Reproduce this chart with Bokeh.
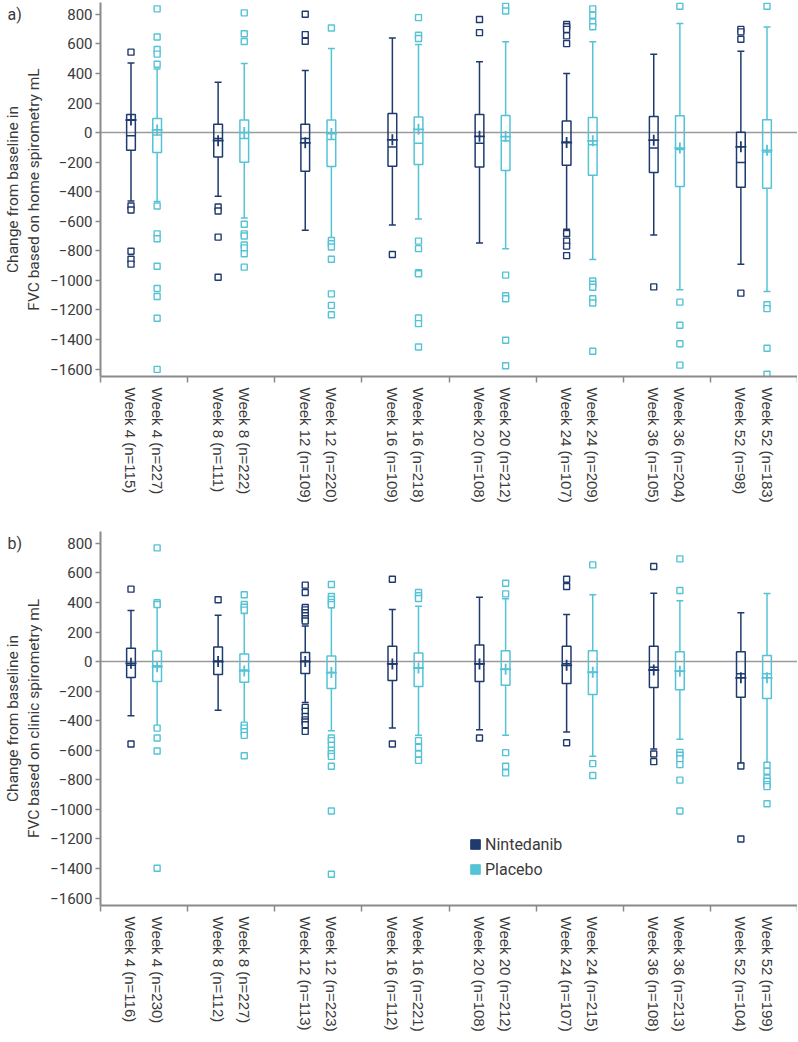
import math
from bokeh.plotting import figure
from bokeh.models import Range1d, LinearAxis, FixedTicker, Span, Title, Legend, LegendItem
from bokeh.layouts import column
from bokeh.embed import file_html
from bokeh.resources import INLINE

# ---------------- data ----------------
weeks = ["Week 4", "Week 8", "Week 12", "Week 16", "Week 20", "Week 24", "Week 36", "Week 52"]

a_n_nin = [115, 111, 109, 109, 108, 107, 105, 98]
a_n_pla = [227, 222, 220, 218, 212, 209, 204, 183]
b_n_nin = [116, 112, 113, 112, 108, 107, 108, 104]
b_n_pla = [230, 227, 223, 221, 212, 215, 213, 199]

# panel a: home spirometry
a_nin_hi = [470, 340, 420, 640, 480, 400, 530, 550]
a_nin_q3 = [122, 56, 56, 129, 122, 78, 109, 2]
a_nin_med = [-22, -40, -40, -98, -72, -65, -105, -203]
a_nin_q1 = [-120, -165, -261, -228, -232, -221, -270, -370]
a_nin_lo = [-462, -430, -660, -625, -747, -654, -692, -890]
a_nin_mean = [85, -55, -69, -49, -25, -67, -51, -96]
a_nin_out = [
    [544, -497, -524, -803, -857, -890],
    [-503, -530, -707, -979],
    [801, 663, 618],
    [-825],
    [765, 676],
    [731, 716, 698, 654, 602, -683, -734, -768, -832],
    [-1044],
    [698, 681, 631, -1086],
]

a_pla_hi = [430, 468, 569, 596, 614, 614, 738, 714]
a_pla_q3 = [96, 85, 85, 105, 116, 102, 114, 87]
a_pla_med = [-16, -40, -47, -72, -56, -82, -114, -132]
a_pla_q1 = [-134, -201, -230, -216, -257, -288, -364, -377]
a_pla_lo = [-466, -578, -716, -584, -785, -859, -1064, -1075]
a_pla_mean = [18, 0, -7, 22, -27, -56, -105, -120]
a_pla_out = [
    [837, 647, 562, 531, 462, -497, -685, -718, -904, -1055, -1109, -1256, -1602],
    [810, 669, 616, -620, -685, -700, -760, -780, -820, -910],
    [707, -730, -752, -774, -857, -1091, -1169, -1232],
    [778, 658, 636, -734, -785, -948, -955, -1254, -1292, -1450],
    [855, 823, -964, -1104, -1124, -1405, -1577],
    [837, 794, 747, 716, -1004, -1026, -1046, -1124, -1153, -1479],
    [855, -1147, -1303, -1428, -1573],
    [855, -1165, -1191, -1459, -1635],
]

# panel b: clinic spirometry
b_nin_hi = [346, 314, 240, 353, 436, 319, 463, 330]
b_nin_q3 = [90, 99, 61, 103, 112, 103, 103, 67]
b_nin_med = [-25, 4, 4, -16, -16, -15, -38, -83]
b_nin_q1 = [-108, -88, -81, -128, -135, -148, -175, -241]
b_nin_lo = [-367, -330, -277, -450, -461, -477, -591, -688]
b_nin_mean = [-12, 0, 0, -16, -16, -25, -57, -110]
b_nin_out = [
    [490, -558],
    [418],
    [517, 467, 366, 350, 330, 310, 290, 275, -310, -337, -371, -394, -409, -427, -472],
    [557, -558],
    [-517],
    [557, 508, -549],
    [643, -625, -677],
    [-706, -1200],
]

b_pla_hi = [371, 326, 364, 375, 425, 452, 411, 460]
b_pla_q3 = [72, 51, 38, 58, 74, 74, 67, 42]
b_pla_med = [-28, -57, -74, -43, -52, -72, -65, -83]
b_pla_q1 = [-135, -140, -182, -169, -160, -223, -191, -250]
b_pla_lo = [-450, -421, -468, -499, -499, -641, -526, -690]
b_pla_mean = [-35, -63, -74, -43, -52, -72, -65, -110]
b_pla_out = [
    [769, 398, 386, -450, -517, -605, -1398],
    [452, 386, 368, 348, -430, -450, -475, -499, -637],
    [521, 440, 420, 400, 385, -517, -535, -566, -600, -623, -641, -708, -1011, -1439],
    [467, 445, 427, -535, -580, -625, -668],
    [530, 458, -616, -708, -753],
    [654, -690, -771],
    [695, 481, -614, -634, -657, -697, -802, -1011],
    [-701, -742, -787, -809, -832, -846, -962],
]

y_ticks = list(range(-1600, 801, 200))
series_names = ["Nintedanib", "Placebo"]

# ---------------- style ----------------
NIN = "#1f3a6e"
PLA = "#55c3d6"
AXIS = "#8a8a8a"
TXT = "#3a3a3a"
FONT = "Roboto"
CAT_FONT = "Liberation Sans"
OFFSETS = [0.35, 0.65]
BOX_W = 0.10
CAP_W = 0.08
NAN = float("nan")
LEFT_BORDER = 93


def ytick_label(t):
    return str(t) if t >= 0 else "\u2212" + str(-t)


def draw_series(p, stats, outs, color, off):
    hi, q3, med, q1, lo, mean = stats
    xs = [round(i + off, 2) for i in range(len(weeks))]
    lw = 1.5
    p.quad(left=[x - BOX_W / 2 for x in xs], right=[x + BOX_W / 2 for x in xs],
           top=q3, bottom=q1, fill_color=None, line_color=color, line_width=lw)
    p.segment(x0=[x - BOX_W / 2 for x in xs], x1=[x + BOX_W / 2 for x in xs],
              y0=med, y1=med, line_color=color, line_width=lw)
    p.segment(x0=xs, x1=xs, y0=q3, y1=hi, line_color=color, line_width=lw)
    p.segment(x0=xs, x1=xs, y0=q1, y1=lo, line_color=color, line_width=lw)
    p.segment(x0=[x - CAP_W / 2 for x in xs], x1=[x + CAP_W / 2 for x in xs],
              y0=hi, y1=hi, line_color=color, line_width=lw)
    p.segment(x0=[x - CAP_W / 2 for x in xs], x1=[x + CAP_W / 2 for x in xs],
              y0=lo, y1=lo, line_color=color, line_width=lw)
    p.scatter(x=xs, y=mean, marker="cross", size=11, line_color=color, line_width=1.8)
    ox, oy = [], []
    for x, vals in zip(xs, outs):
        ox += [x] * len(vals)
        oy += vals
    p.scatter(x=ox, y=oy, marker="square", size=6, fill_color="white",
              line_color=color, line_width=1.4)
    return xs


def make_panel(tag, ylabel, n_nin, n_pla, nin_stats, nin_out, pla_stats, pla_out,
               top_border, frame_h, legend=False):
    p = figure(x_range=Range1d(0, 8), y_range=Range1d(-1650, 880),
               frame_width=697, frame_height=frame_h,
               x_axis_type=None, y_axis_type=None,
               output_backend="svg", toolbar_location=None,
               min_border_left=LEFT_BORDER, min_border_right=0,
               min_border_top=top_border, min_border_bottom=0)
    p.outline_line_color = None
    p.background_fill_color = "white"

    p.add_layout(Span(location=0, dimension="width", line_color="#9a9a9a",
                      line_width=1.5, level="underlay"))

    xs_n = draw_series(p, nin_stats, nin_out, NIN, OFFSETS[0])
    xs_p = draw_series(p, pla_stats, pla_out, PLA, OFFSETS[1])

    # y axis
    yax = LinearAxis(ticker=FixedTicker(ticks=y_ticks, minor_ticks=[]),
                     major_label_overrides={t: ytick_label(t) for t in y_ticks},
                     axis_label=ylabel)
    yax.axis_line_color = AXIS
    yax.axis_line_width = 2
    yax.major_tick_line_color = AXIS
    yax.major_tick_line_width = 1.5
    yax.major_tick_out = 5
    yax.major_tick_in = 0
    yax.major_label_standoff = 3
    yax.major_label_text_font = FONT
    yax.major_label_text_font_size = "15px"
    yax.major_label_text_color = TXT
    yax.axis_label_text_font = FONT
    yax.axis_label_text_font_size = "15.5px"
    yax.axis_label_text_font_style = "normal"
    yax.axis_label_text_color = TXT
    yax.axis_label_standoff = 4
    p.add_layout(yax, "left")

    # x axis: category labels (major) + group boundary ticks (minor)
    labels = {}
    for i, w in enumerate(weeks):
        labels[xs_n[i]] = f"{w} (n={n_nin[i]})"
        labels[xs_p[i]] = f"{w} (n={n_pla[i]})"
    xticks = sorted(labels.keys())
    xax = LinearAxis(ticker=FixedTicker(ticks=xticks, minor_ticks=list(range(len(weeks) + 1))),
                     major_label_overrides=labels)
    xax.axis_line_color = AXIS
    xax.axis_line_width = 2
    xax.major_tick_line_color = None
    xax.major_tick_out = 6
    xax.major_tick_in = 0
    xax.minor_tick_line_color = AXIS
    xax.minor_tick_line_width = 1.5
    xax.minor_tick_out = 6
    xax.minor_tick_in = 0
    xax.major_label_orientation = -math.pi / 2
    xax.major_label_standoff = 5
    xax.major_label_text_font = CAT_FONT
    xax.major_label_text_font_size = "15px"
    xax.major_label_text_color = TXT
    p.add_layout(xax, "below")

    # panel tag ("a)" / "b)") as a zero-height title pulled down beside the top tick
    t = Title(text=tag, align="left", offset=-LEFT_BORDER, standoff=-42,
              vertical_align="bottom", text_font=FONT, text_font_size="16px",
              text_font_style="normal", text_color=TXT)
    p.add_layout(t, "above")

    if legend:
        r1 = p.quad(left=[NAN], right=[NAN], top=[NAN], bottom=[NAN],
                    fill_color=NIN, line_color=NIN)
        r2 = p.quad(left=[NAN], right=[NAN], top=[NAN], bottom=[NAN],
                    fill_color=PLA, line_color=PLA)
        leg = Legend(items=[LegendItem(label=series_names[0], renderers=[r1]),
                            LegendItem(label=series_names[1], renderers=[r2])],
                     location=(369, 26), orientation="vertical")
        leg.padding = 0
        leg.margin = 0
        leg.border_line_color = None
        leg.background_fill_alpha = 0
        leg.glyph_width = 12
        leg.glyph_height = 12
        leg.label_height = 20
        leg.spacing = 5
        leg.label_standoff = 4
        leg.label_text_font = FONT
        leg.label_text_font_size = "16px"
        leg.label_text_color = TXT
        p.add_layout(leg, "center")
    return p


pa = make_panel("a)", "Change from baseline in\nFVC based on home spirometry mL",
                a_n_nin, a_n_pla,
                (a_nin_hi, a_nin_q3, a_nin_med, a_nin_q1, a_nin_lo, a_nin_mean), a_nin_out,
                (a_pla_hi, a_pla_q3, a_pla_med, a_pla_q1, a_pla_lo, a_pla_mean), a_pla_out,
                top_border=2, frame_h=374)
pb = make_panel("b)", "Change from baseline in\nFVC based on clinic spirometry mL",
                b_n_nin, b_n_pla,
                (b_nin_hi, b_nin_q3, b_nin_med, b_nin_q1, b_nin_lo, b_nin_mean), b_nin_out,
                (b_pla_hi, b_pla_q3, b_pla_med, b_pla_q1, b_pla_lo, b_pla_mean), b_pla_out,
                top_border=26, frame_h=374, legend=True)

layout = column(pa, pb, spacing=0)
open("out.html", "w").write(file_html(layout, INLINE))
